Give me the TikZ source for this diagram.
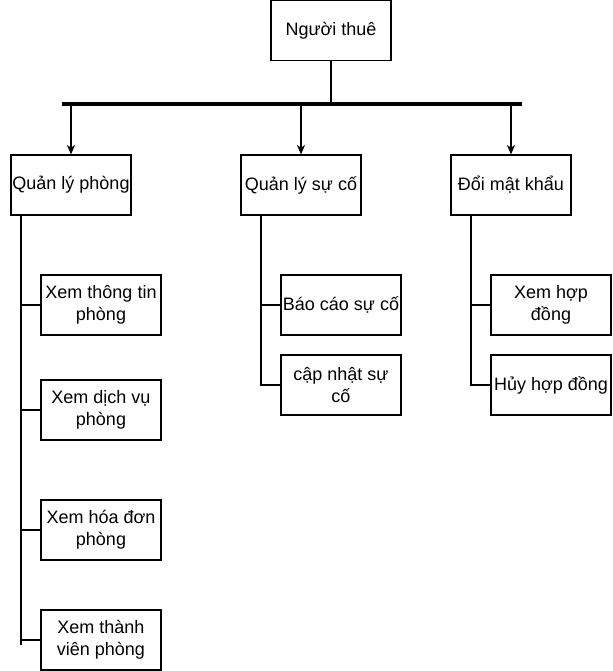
\documentclass[tikz,border=0pt]{standalone}
\usepackage{fontspec}
\setmainfont{Liberation Sans}
\usetikzlibrary{arrows.meta}

\begin{document}
\begin{tikzpicture}[x=0.75pt, y=-0.75pt, font=\fontsize{13.5}{16.5}\selectfont,
  box/.style={draw, line width=0.9pt, minimum width=90pt, minimum height=45pt, inner sep=0.5pt, align=center},
  link/.style={line width=1.4pt},
  arr/.style={line width=0.9pt, -{Stealth[length=7pt,width=6pt,inset=2pt]}}]
  \useasboundingbox (0,0) rectangle (612,671);
  % root and first level
  \node[box] (renter) at (331,30.5) {Người thuê};
  \node[box] (qlp) at (71,185) {Quản lý phòng};
  \node[box] (qlsc) at (301,185) {Quản lý sự cố};
  \node[box] (dmk) at (511,185) {Đổi mật khẩu};
  % second level
  \node[box] (xtt) at (101,305) {Xem thông tin\\phòng};
  \node[box] (xdv) at (101,410) {Xem dịch vụ\\phòng};
  \node[box] (xhd) at (101,530) {Xem hóa đơn\\phòng};
  \node[box] (xtv) at (101,640) {Xem thành\\viên phòng};
  \node[box] (bcsc) at (341,305) {Báo cáo sự cố};
  \node[box] (cnsc) at (341,385) {cập nhật sự\\cố};
  \node[box] (xhdg) at (551,305) {Xem hợp\\đồng};
  \node[box] (hhd) at (551,385) {Hủy hợp đồng};
  \coordinate (barL) at (62,104);
  \coordinate (barR) at (522,104);
  \coordinate (trunkA) at (21,645);
  \coordinate (trunkB) at (261,215);
  \coordinate (trunkC) at (471,215);
  % connectors
  \draw[line width=3pt] (barL) -- (barR);
  \draw[line width=0.9pt] (renter) -- (renter |- barL);
  \foreach \n in {qlp,qlsc,dmk}
    \draw[arr] (\n |- barL) -- (\n);
  \draw[link] (trunkA |- qlp.south) -- (trunkA);
  \foreach \n in {xtt,xdv,xhd,xtv}
    \draw[link] (trunkA |- \n.west) -- (\n.west);
  \draw[link] (trunkB) |- (cnsc.west);
  \draw[link] (trunkB |- bcsc.west) -- (bcsc.west);
  \draw[link] (trunkC) |- (hhd.west);
  \draw[link] (trunkC |- xhdg.west) -- (xhdg.west);
\end{tikzpicture}
\end{document}
